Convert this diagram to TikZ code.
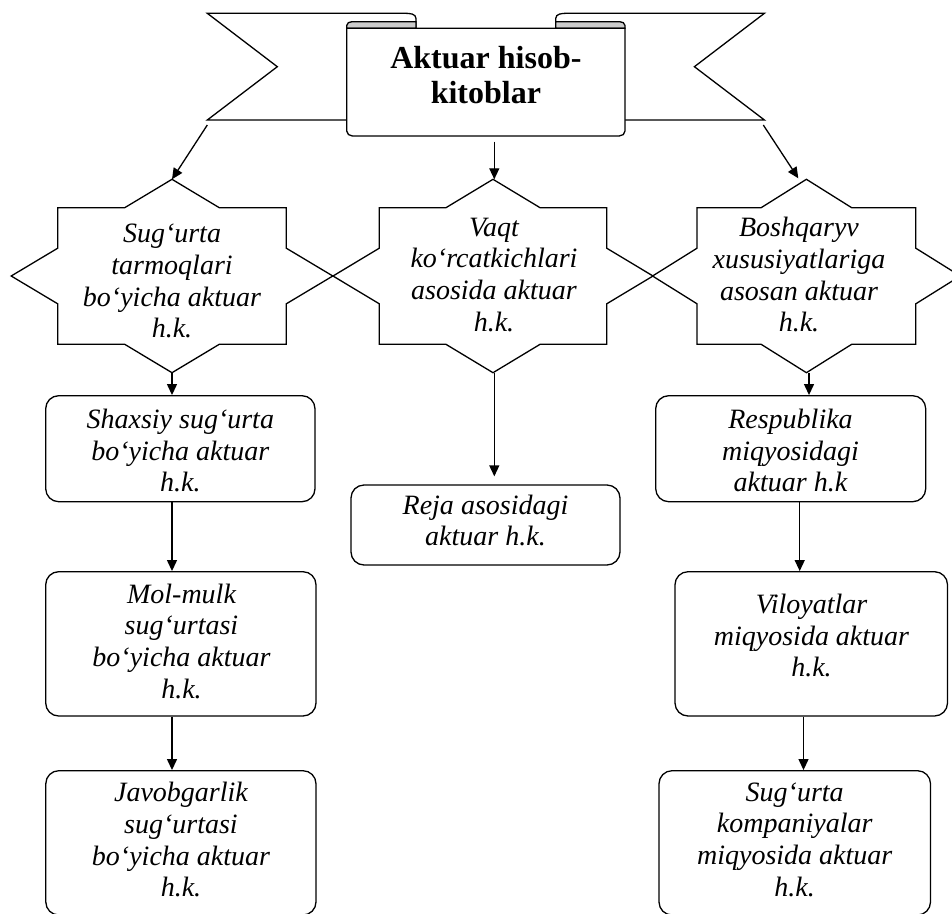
\documentclass[tikz,border=0pt]{standalone}
\usepackage{fontspec}
\setmainfont{Liberation Serif}
\usetikzlibrary{arrows.meta}
\begin{document}
\begin{tikzpicture}[x=1pt,y=-1pt,line width=1.3pt,
 arr/.style={-{Triangle[length=11pt,width=10pt]}},
 box/.style={draw,rounded corners=13pt,fill=white,inner sep=0pt},
 txt/.style={align=center,inner sep=0pt,font=\fontsize{28}{31.7}\selectfont\itshape},
 ttl/.style={align=center,inner sep=0pt,font=\fontsize{32}{35}\selectfont\bfseries},
 eightstar/.pic={\draw[line join=miter] (0,-96.7) -- (47.3,-68.3) -- (114.3,-68.3) -- (114.3,-27.8) -- (160.8,0) -- (114.3,27.8) -- (114.3,68.3) -- (47.3,68.3) -- (0,96.7) -- (-47.3,68.3) -- (-114.3,68.3) -- (-114.3,27.8) -- (-160.8,0) -- (-114.3,-27.8) -- (-114.3,-68.3) -- (-47.3,-68.3) -- cycle;}]
\useasboundingbox (0,0) rectangle (952,913);
\clip (0,0) rectangle (952,913);

% ---- banner ----
\draw[fill=white,line join=miter] (346.7,120) -- (207.3,120) -- (277.3,66.7) -- (207.3,13.3) -- (405,13.3) to[out=0,in=90] (416,18.5) -- (416,28.3);
\draw[fill=white,line join=miter] (625,120) -- (764.4,120) -- (694.4,66.7) -- (764.4,13.3) -- (566.7,13.3) to[out=180,in=90] (555.7,18.5) -- (555.7,28.3);
\draw[fill=gray!40] (346.7,28.3) -- (346.7,25.5) to[out=90,in=180] (352,21.7) -- (416,21.7) -- (416,28.3) -- cycle;
\draw[fill=gray!40] (625,28.3) -- (625,25.5) to[out=90,in=0] (619.7,21.7) -- (555.7,21.7) -- (555.7,28.3) -- cycle;
\draw[fill=white] (346.7,28.3) -- (346.7,131) to[out=-90,in=180] (352.5,136) -- (619.2,136) to[out=0,in=-90] (625,131) -- (625,28.3) -- cycle;
\node[ttl] (title) at (485.9,74.9) {Aktuar hisob-\\kitoblar};

% ---- stars ----
\pic at (172,276) {eightstar};
\pic[xscale=0.995] at (493,276) {eightstar};
\pic[xscale=0.957] at (806.4,276) {eightstar};
\node[txt] (s1) at (172,281.3) {Sug‘urta\\tarmoqlari\\bo‘yicha aktuar\\h.k.};
\node[txt] (s2) at (494,274.7) {Vaqt\\ko‘rcatkichlari\\asosida aktuar\\h.k.};
\node[txt] (s3) at (799,274.7) {Boshqaryv\\xususiyatlariga\\asosan aktuar\\h.k.};

\coordinate (t1) at (207.3,125);
\coordinate (t2) at (494.3,141.7);
\coordinate (t3) at (763.3,125);
\coordinate (s1n) at (172,179.3);
\coordinate (s2n) at (494.3,179.3);
\coordinate (s3n) at (798.3,178.3);
\coordinate (s1s) at (172,372.7);
\coordinate (s2s) at (494.3,372.7);
\coordinate (s3s) at (809,372.7);
\coordinate (x2) at (799.7,0);
\coordinate (x3) at (803.5,0);

% ---- boxes ----
\node[box,minimum width=269.3pt,minimum height=106pt] (b1) at (180.35,448.7) {};
\node[box,minimum width=270.3pt,minimum height=144.3pt] (b2) at (180.85,643.85) {};
\node[box,minimum width=270.2pt,minimum height=144.3pt] (b3) at (180.9,842.85) {};
\node[box,minimum width=269pt,minimum height=80pt] (r) at (485.5,525) {};
\node[box,minimum width=270pt,minimum height=106pt] (c1) at (790.7,448.7) {};
\node[box,minimum width=272.5pt,minimum height=144.3pt] (c2) at (811.25,643.85) {};
\node[box,minimum width=271.5pt,minimum height=144.3pt] (c3) at (794.75,842.85) {};

\node[txt] (b1t) at (180.3,450.5) {Shaxsiy sug‘urta\\bo‘yicha aktuar\\h.k.};
\node[txt] (b2t) at (181.5,641.3) {Mol-mulk\\sug‘urtasi\\bo‘yicha aktuar\\h.k.};
\node[txt] (b3t) at (181,839.7) {Javobgarlik\\sug‘urtasi\\bo‘yicha aktuar\\h.k.};
\node[txt] (rt) at (485.5,520.4) {Reja asosidagi\\aktuar h.k.};
\node[txt] (c1t) at (790.5,450.5) {Respublika\\miqyosidagi\\aktuar h.k};
\node[txt] (c2t) at (811.5,635.5) {Viloyatlar\\miqyosida aktuar\\h.k.};
\node[txt] (c3t) at (794.7,839.7) {Sug‘urta\\kompaniyalar\\miqyosida aktuar\\h.k.};

% ---- connectors ----
\coordinate (rg) at ([yshift=8pt]r.north);
\draw[arr] (t1) -- (s1n);
\draw[arr] (t2) -- (s2n);
\draw[arr] (t3) -- (s3n);
\draw[arr] (s1s) -- (s1s |- b1.north);
\draw[arr] (s1s |- b1.south) -- (s1s |- b2.north);
\draw[arr] (s1s |- b2.south) -- (s1s |- b3.north);
\draw[arr] (s2s) -- (s2s |- rg);
\draw[arr] (s3s) -- (s3s |- c1.north);
\draw[arr] (x2 |- c1.south) -- (x2 |- c2.north);
\draw[arr] (x3 |- c2.south) -- (x3 |- c3.north);
\end{tikzpicture}
\end{document}
